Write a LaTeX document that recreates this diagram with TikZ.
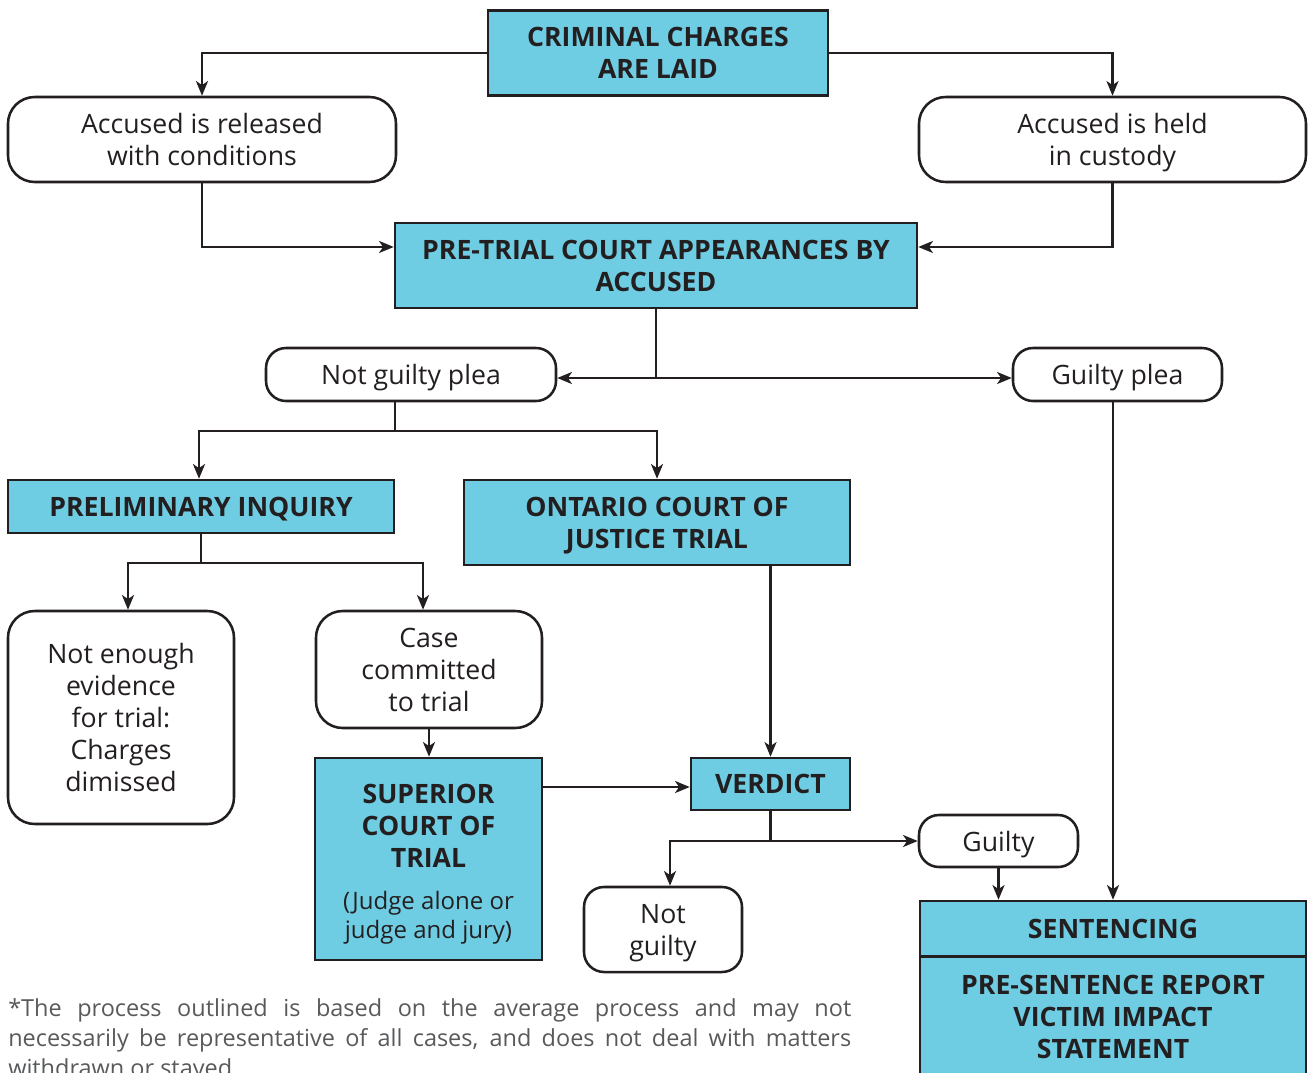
\documentclass[tikz,border=0pt]{standalone}
\usepackage{fontspec}
\setmainfont{Open Sans}
\usetikzlibrary{arrows.meta,calc}
\definecolor{cy}{HTML}{6FCDE3}
\definecolor{ink}{HTML}{231F20}
\definecolor{foot}{HTML}{58595B}
\begin{document}
\begin{tikzpicture}[x=0.75pt,y=-0.75pt,
  every node/.style={font=\fontsize{20}{24}\selectfont, text=ink, inner sep=0pt, text depth=0pt},
  sq/.style={draw=ink, line width=1.9pt, fill=cy, align=center, font=\fontsize{20}{24}\selectfont\bfseries},
  rnd/.style={draw=ink, line width=1.9pt, fill=white, rounded corners=20pt, align=center},
  rnds/.style={rnd, rounded corners=15pt},
  conn/.style={draw=ink, line width=1.7pt},
  arr/.style={conn, -{Stealth[length=11pt,width=9pt,inset=3pt]}}
]
\useasboundingbox (0,0) rectangle (1310,1072);

% nodes
\node[sq, minimum width=255pt, minimum height=63.75pt] (crim) at (658,53) {CRIMINAL CHARGES\\ARE LAID};
\node[rnd, minimum width=291pt, minimum height=63.75pt] (rel) at (202,139.5) {Accused is released\\with conditions};
\node[rnd, minimum width=290.25pt, minimum height=63.75pt] (cus) at (1112.5,139.5) {Accused is held\\in custody};
\node[sq, minimum width=391.5pt, minimum height=63.75pt] (pre) at (656,265.5) {PRE-TRIAL COURT APPEARANCES BY\\ACCUSED};
\node[rnds, minimum width=217.5pt, minimum height=39.75pt] (ngp) at (411,374.5) {Not guilty plea};
\node[rnds, minimum width=156.75pt, minimum height=39.75pt] (gp) at (1117.5,374.5) {Guilty plea};
\node[sq, minimum width=289.5pt, minimum height=39.75pt] (prel) at (201,506.5) {PRELIMINARY INQUIRY};
\node[sq, minimum width=289.5pt, minimum height=63.75pt] (ont) at (657,522.5) {ONTARIO COURT OF\\JUSTICE TRIAL};
\node[rnd, minimum width=169.5pt, minimum height=159.75pt] (ne) at (121,717.5) {Not enough\\evidence\\for trial:\\Charges\\dimissed};
\node[rnd, minimum width=169.5pt, minimum height=87.75pt] (cc) at (429,669.5) {Case\\committed\\to trial};
\node[sq, minimum width=170.25pt, minimum height=151.5pt] (sup) at (428.5,859) {};
\node[font=\fontsize{20}{24}\selectfont\bfseries, align=center] (supt) at (428.5,825.5) {SUPERIOR\\COURT OF\\TRIAL};
\node[font=\fontsize{18}{21.75}\selectfont, align=center] (supj) at (428.5,915) {(Judge alone or\\judge and jury)};
\node[sq, minimum width=119.25pt, minimum height=39pt] (ver) at (770.5,784) {VERDICT};
\node[rnds, minimum width=119.25pt, minimum height=39pt] (gu) at (998.5,841) {Guilty};
\node[rnds, minimum width=118.5pt, minimum height=63.75pt] (ng) at (663,929.5) {Not\\guilty};
\node[sq, minimum width=289.5pt, minimum height=41.25pt] (sen) at (1113,928.5) {SENTENCING};
\node[sq, minimum width=289.5pt, minimum height=90pt] (psr) at (1113,1017) {PRE-SENTENCE REPORT\\VICTIM IMPACT\\STATEMENT};

\node[anchor=north west, text width=632.25pt, align=justify, text=foot,
      font=\fontsize{17.6}{22.5}\selectfont] (fn) at (8,998)
  {\hyphenpenalty=10000 *The process outlined is based on the average process and may not\linebreak necessarily be representative of all cases, and does not deal with matters\linebreak withdrawn or stayed.};

% connectors
\draw[arr] (crim.west) -| (rel.north);
\draw[arr] (crim.east) -| (cus.north);
\draw[arr] (rel.south) |- ([yshift=13.9pt]pre.west);
\draw[arr] (cus.south) |- ([yshift=13.9pt]pre.east);
\coordinate (j1) at ($(pre.south |- ngp.east)+(0,3.5)$);
\draw[conn] (pre.south) -- (j1);
\draw[arr] (j1) -- (j1 -| ngp.east);
\draw[arr] (j1) -- (j1 -| gp.west);
\coordinate (ngpb) at ([xshift=-12pt]ngp.south);
\coordinate (h1) at (ngpb |- 0,431);
\draw[conn] (ngpb) -- (h1);
\draw[arr] (h1) -| ([xshift=-1.5pt]prel.north);
\draw[arr] (h1) -| (ont.north);
\coordinate (h2) at (prel.south |- 0,563);
\draw[conn] (prel.south) -- (h2);
\draw[arr] (h2) -| ([xshift=5.25pt]ne.north);
\draw[arr] (h2) -| ([xshift=-4.5pt]cc.north);
\draw[arr] (cc.south) -- (cc.south |- sup.north);
\draw[arr] ($(sup.east |- ver.west)+(0,3)$) -- ($(ver.west)+(0,3)$);
\draw[arr] (ont.south -| ver.north) -- (ver.north);
\coordinate (j2) at (ver.south |- gu.west);
\draw[conn] (ver.south) -- (j2);
\draw[arr] (j2) -- (gu.west);
\draw[arr] (j2) -| ([xshift=5.25pt]ng.north);
\draw[arr] (gu.south) -- (gu.south |- sen.north);
\draw[arr] (gp.south -| sen.north) -- (sen.north);
\end{tikzpicture}
\end{document}
